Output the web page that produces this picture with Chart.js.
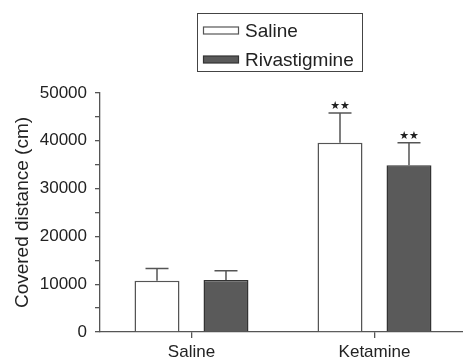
<!DOCTYPE html>
<html><head><meta charset="utf-8">
<script src="https://cdn.jsdelivr.net/npm/chart.js@4/dist/chart.umd.min.js"></script>
<style>html,body{margin:0;padding:0;background:#fff;overflow:hidden;width:463px;height:362px}
#wrap{position:relative;width:470px;height:362px}</style>
</head><body><div id="wrap"><canvas id="c" width="470" height="362"></canvas></div>
<script>
const categories = ['Saline', 'Ketamine'];
const seriesNames = ['Saline', 'Rivastigmine'];
const salineValues = [10700, 39600];
const rivastigmineValues = [10900, 34900];
const salineErrors = [2600, 6200];
const rivastigmineErrors = [1900, 4700];
const salineMarks = ['', '**'];
const rivastigmineMarks = ['', '**'];
const yTicks = [0, 10000, 20000, 30000, 40000, 50000];

const FONT = "'Liberation Sans', Arial, sans-serif";
const AXIS = '#555';
const TEXT = '#222';

const errorPlugin = {
  id: 'errorBars',
  afterDatasetsDraw(chart) {
    const ctx = chart.ctx;
    const ys = chart.scales.y;
    chart.data.datasets.forEach((ds, i) => {
      const meta = chart.getDatasetMeta(i);
      meta.data.forEach((el, j) => {
        const top = ys.getPixelForValue(ds.data[j] + ds.errors[j]);
        ctx.save();
        ctx.strokeStyle = AXIS;
        ctx.lineWidth = 1.5;
        ctx.beginPath();
        ctx.moveTo(el.x, el.y);
        ctx.lineTo(el.x, top);
        ctx.moveTo(el.x - 11.5, top);
        ctx.lineTo(el.x + 11.5, top);
        ctx.stroke();
        const m = ds.marks[j];
        if (m) {
          ctx.fillStyle = TEXT;
          ctx.font = "11px 'DejaVu Sans'";
          ctx.textAlign = 'center';
          ctx.textBaseline = 'middle';
          ctx.fillText(m.replace(/\*/g, '\u2605'), el.x, top - 6.5);
        }
        ctx.restore();
      });
    });
  }
};

const legendPlugin = {
  id: 'boxLegend',
  afterDraw(chart) {
    const ctx = chart.ctx;
    ctx.save();
    ctx.strokeStyle = '#444';
    ctx.lineWidth = 1;
    ctx.strokeRect(197.5, 13.5, 165, 58);
    const rows = [30.5, 59.5];
    chart.data.datasets.forEach((ds, i) => {
      ctx.fillStyle = ds.backgroundColor;
      ctx.fillRect(203.5, rows[i] - 3.5, 35, 7);
      ctx.strokeStyle = ds.borderColor;
      ctx.lineWidth = 1.2;
      ctx.strokeRect(203.5, rows[i] - 3.5, 35, 7);
      ctx.fillStyle = TEXT;
      ctx.font = '19px ' + FONT;
      ctx.textAlign = 'left';
      ctx.textBaseline = 'middle';
      ctx.fillText(ds.label, 245, rows[i] + 1);
    });
    ctx.restore();
  }
};

new Chart(document.getElementById('c'), {
  type: 'bar',
  data: {
    labels: categories,
    datasets: [
      { label: seriesNames[0], data: salineValues, errors: salineErrors, marks: salineMarks,
        backgroundColor: '#ffffff', borderColor: '#555555', borderWidth: 1.5 },
      { label: seriesNames[1], data: rivastigmineValues, errors: rivastigmineErrors, marks: rivastigmineMarks,
        backgroundColor: '#5a5a5a', borderColor: '#333333', borderWidth: 1.5 }
    ]
  },
  options: {
    responsive: false,
    devicePixelRatio: 1,
    animation: false,
    barPercentage: 0.652,
    categoryPercentage: 0.754,
    layout: { padding: { top: 93, right: 4, left: 0, bottom: 0 } },
    plugins: { legend: { display: false }, tooltip: { enabled: false } },
    scales: {
      x: {
        grid: { drawOnChartArea: false, offset: false, tickLength: 6, color: AXIS, lineWidth: 1.3 },
        border: { color: AXIS, width: 1.3 },
        ticks: { font: { size: 17, family: FONT }, color: TEXT, padding: 4 },
        afterFit(s) { s.height = 30; }
      },
      y: {
        min: 0, max: 50000,
        grid: { drawOnChartArea: false, tickLength: 5, color: AXIS, lineWidth: 1.3 },
        border: { color: AXIS, width: 1.3 },
        ticks: { stepSize: 5000, autoSkip: false, font: { size: 17, family: FONT }, color: TEXT, padding: 8,
          callback: v => yTicks.includes(v) ? String(v) : '' },
        title: { display: true, text: 'Covered distance (cm)', font: { size: 19, family: FONT }, color: TEXT,
          padding: { top: 11, bottom: 0 } },
        afterFit(s) { s.width = 100; }
      }
    }
  },
  plugins: [errorPlugin, legendPlugin]
});
</script></body></html>
